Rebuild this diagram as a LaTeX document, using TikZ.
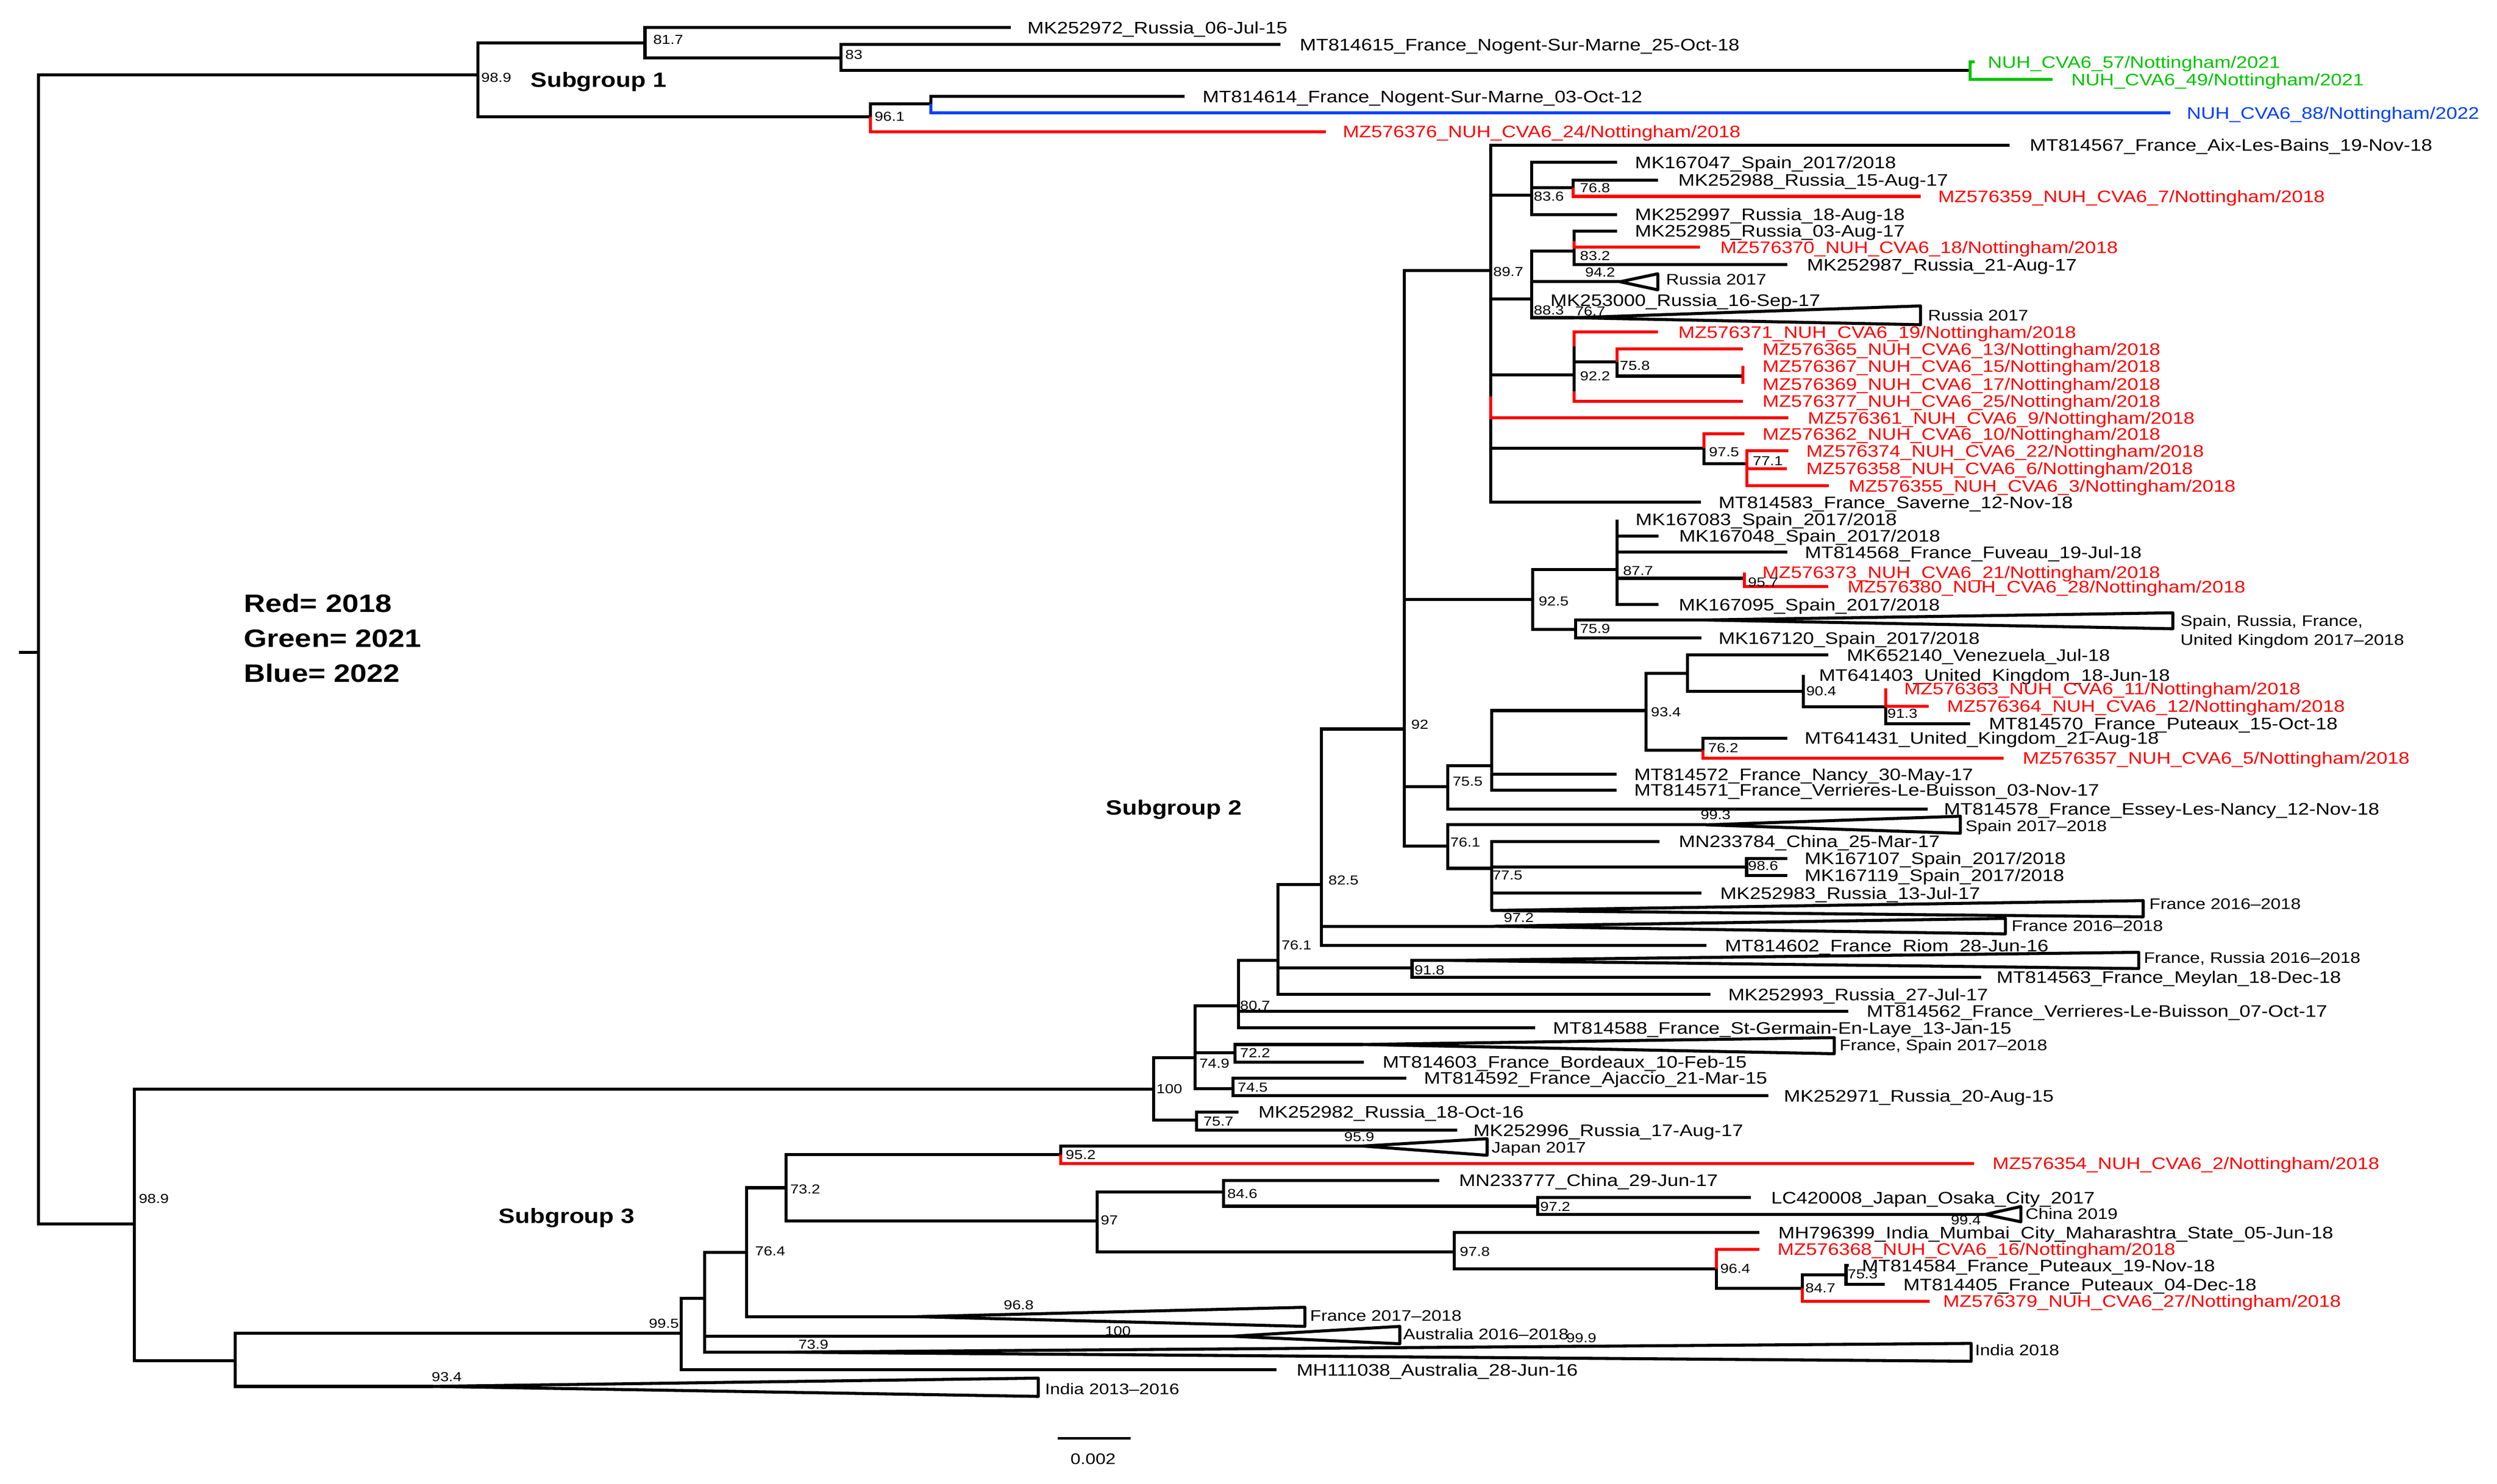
\documentclass[tikz,border=0pt]{standalone}
\usepackage{fontspec}
\setmainfont{Liberation Sans}[FakeStretch=1.18]
\definecolor{tred}{RGB}{255,0,0}
\definecolor{tgreen}{RGB}{0,196,0}
\definecolor{tblue}{RGB}{0,64,255}
\tikzset{
 br/.style={line width=1.9pt},
 lab/.style={font=\fontsize{10.5}{12}\selectfont, inner sep=0pt, text height=7.5pt, text depth=0pt, anchor=west},
 bsn/.style={font=\fontsize{8.2}{9}\selectfont, inner sep=0pt, text height=5.8pt, text depth=0pt, anchor=west},
 bsc/.style={font=\fontsize{8.2}{9}\selectfont, inner sep=0pt, text height=5.8pt, text depth=0pt},
 clab/.style={font=\fontsize{9.6}{11}\selectfont, inner sep=0pt, text height=6.9pt, text depth=0pt, anchor=west},
 sg/.style={font=\bfseries\fontsize{13}{15}\selectfont, inner sep=0pt, text height=9.3pt, text depth=0pt, anchor=west},
 leg/.style={font=\bfseries\fontsize{15.8}{18}\selectfont, inner sep=0pt, text height=11.3pt, text depth=0pt, anchor=west},
}
% black leaf: parent, name, end x, y, label x, text
\newcommand\lf[6]{%
 \coordinate (#2) at (#3,#4);
 \draw[br] (#1) |- (#2);
 \node[lab] (#2t) at (#5,#4) {#6};}
% coloured leaf: colour, parent, split, name, end x, y, label x, text
\newcommand\lfc[8]{%
 \coordinate (#4) at (#5,#6);
 \draw[br] (#2) -- (#3);
 \draw[br,#1] (#3) |- (#4);
 \node[lab,text=#1] (#4t) at (#7,#6) {#8};}
% collapsed clade: parent, name, apex x, y, right x, top y, bottom y
\newcommand\tri[7]{%
 \coordinate (#2) at (#3,#4);
 \coordinate (#2a) at (#5,#6);
 \coordinate (#2b) at (#5,#7);
 \draw[br] (#1) |- (#2);
 \draw[br,line join=round] (#2) -- (#2a) -- (#2b) -- cycle;}
\begin{document}
\begin{tikzpicture}[x=1pt,y=-1pt]
\fill[white] (0,0) rectangle (1568,932.3);
\useasboundingbox (0,0) rectangle (1568,932.3);
% ---------- internal nodes ----------
\coordinate (rootL) at (12,410);
\coordinate (root) at (24,410);
\coordinate (s1) at (300,47);
\coordinate (n817) at (405,27);
\coordinate (n83) at (528,36.5);
\coordinate (g57) at (1237,44.2);
\coordinate (n961) at (546.6,73.5);
\coordinate (n96b) at (584.5,65.3);
\coordinate (s23) at (84.5,769);
\coordinate (s3) at (147.8,855);
\coordinate (n995) at (427.6,837.7);
\coordinate (n442) at (442.4,815.7);
\coordinate (n764) at (468.8,786.8);
\coordinate (n732) at (493.6,746.2);
\coordinate (n952) at (666.2,725.3);
\coordinate (n97) at (689,767);
\coordinate (n846) at (768.2,749);
\coordinate (n972) at (965.7,757.8);
\coordinate (n978) at (913.3,786.4);
\coordinate (n964) at (1077.9,797.3);
\coordinate (n847) at (1131.9,809.3);
\coordinate (n753) at (1159.2,801);
\coordinate (n100) at (724.3,684.3);
\coordinate (n749) at (750.5,664.4);
\coordinate (n757) at (751.4,703.8);
\coordinate (n807) at (777.8,631.9);
\coordinate (n722) at (775.4,661.3);
\coordinate (n745) at (774.4,684);
\coordinate (n761b) at (802.5,603.4);
\coordinate (n825) at (829.8,555.7);
\coordinate (n918) at (886.7,608.2);
\coordinate (n92) at (881.7,458);
\coordinate (n897) at (936.2,170);
\coordinate (n836) at (961.7,122.6);
\coordinate (n768) at (987.9,118);
\coordinate (n883) at (961.7,187.7);
\coordinate (n832) at (988.4,157.8);
\coordinate (n922) at (988.4,235.5);
\coordinate (n758) at (1015.4,227.3);
\coordinate (c367) at (1094.5,236.3);
\coordinate (n975) at (1070,281.7);
\coordinate (n771) at (1097,291.3);
\coordinate (n925) at (962.4,376.7);
\coordinate (n877) at (1015.4,357.9);
\coordinate (n957) at (1095.5,363.3);
\coordinate (n759) at (989.3,395.5);
\coordinate (n755) at (909,494.2);
\coordinate (n936) at (936.8,481.2);
\coordinate (n934) at (1033.7,446.4);
\coordinate (n1059) at (1059.7,423);
\coordinate (n904) at (1132.5,434.3);
\coordinate (n913) at (1184,444);
\coordinate (n762) at (1069.3,471.2);
\coordinate (n761c) at (909,531.4);
\coordinate (n775) at (936.8,545.5);
\coordinate (n986) at (1096.8,544.6);
\coordinate (s370) at (988.4,151.5);
\coordinate (s371) at (988.4,217.6);
\coordinate (s377) at (988.4,245.8);
\coordinate (s361) at (936.2,249);
% ---------- backbone ----------
\draw[br] (rootL) -- (root);
\draw[br] (root) |- (s1);
\draw[br] (root) |- (s23);
% ---------- subgroup 1 ----------
\draw[br] (s1) |- (n817);
\draw[br] (s1) |- (n961);
\lf{n817}{L1}{634.6}{17.3}{645}{MK252972\_Russia\_06-Jul-15}
\draw[br] (n817) |- (n83);
\lf{n83}{L2}{804}{28}{816}{MT814615\_France\_Nogent-Sur-Marne\_25-Oct-18}
\draw[br] (n83) |- (g57);
\lfc{tgreen}{g57}{g57}{L3}{1240}{39}{1248}{NUH\_CVA6\_57/Nottingham/2021}
\lfc{tgreen}{g57}{g57}{L4}{1289}{50}{1300.5}{NUH\_CVA6\_49/Nottingham/2021}
\draw[br] (n961) |- (n96b);
\lf{n96b}{L5}{744}{60.6}{755}{MT814614\_France\_Nogent-Sur-Marne\_03-Oct-12}
\lfc{tblue}{n96b}{n96b}{L6}{1363}{71}{1373}{NUH\_CVA6\_88/Nottingham/2022}
\lfc{tred}{n961}{n961}{L7}{832.7}{82.7}{843}{MZ576376\_NUH\_CVA6\_24/Nottingham/2018}
% ---------- subgroup 2 ----------
\draw[br] (s23) |- (n100);
\draw[br] (n100) |- (n749);
\draw[br] (n100) |- (n757);
\draw[br] (n749) |- (n807);
\draw[br] (n749) |- (n722);
\draw[br] (n749) |- (n745);
\draw[br] (n807) |- (n761b);
\draw[br] (n761b) |- (n825);
\draw[br] (n761b) |- (n918);
\draw[br] (n825) |- (n92);
\draw[br] (n92) |- (n897);
\draw[br] (n92) |- (n925);
\draw[br] (n92) |- (n755);
\draw[br] (n92) |- (n761c);
% clade under 89.7
\lf{n897}{L8}{1261.8}{91.2}{1274.4}{MT814567\_France\_Aix-Les-Bains\_19-Nov-18}
\draw[br] (n897) |- (n836);
\lf{n836}{L9}{1015.4}{102}{1026.5}{MK167047\_Spain\_2017/2018}
\draw[br] (n836) |- (n768);
\lf{n768}{L10}{1041}{113.2}{1053.7}{MK252988\_Russia\_15-Aug-17}
\lfc{tred}{n768}{n768}{L11}{1206}{123.4}{1216.8}{MZ576359\_NUH\_CVA6\_7/Nottingham/2018}
\lf{n836}{L12}{1015.4}{134.7}{1026.5}{MK252997\_Russia\_18-Aug-18}
\draw[br] (n897) |- (n883);
\draw[br] (n883) |- (n832);
\lf{n832}{L13}{1015.4}{145.2}{1026.5}{MK252985\_Russia\_03-Aug-17}
\lf{n832}{L15}{1122.5}{166.3}{1134.5}{MK252987\_Russia\_21-Aug-17}
\lfc{tred}{n832}{s370}{L14}{1067.4}{155.3}{1080}{MZ576370\_NUH\_CVA6\_18/Nottingham/2018}
\tri{n883}{T1}{1017.3}{177}{1041}{172}{182.1}
\node[clab] (T1t) at (1046,175.5) {Russia 2017};
\coordinate (L17) at (961.7,188.5);
\node[lab] (L17t) at (973.4,188.5) {MK253000\_Russia\_16-Sep-17};
\tri{n883}{T2}{988.4}{199.6}{1206}{192.2}{204}
\node[clab] (T2t) at (1210.5,197.9) {Russia 2017};
\draw[br] (n897) |- (n922);
\draw[br] (n922) |- (n758);
\draw[br] (n758) |- (c367);
\lfc{tred}{n758}{n758}{L20}{1094.5}{219.3}{1106.6}{MZ576365\_NUH\_CVA6\_13/Nottingham/2018}
\lfc{tred}{c367}{c367}{L21}{1094.5}{230}{1106.6}{MZ576367\_NUH\_CVA6\_15/Nottingham/2018}
\lfc{tred}{c367}{c367}{L22}{1094.5}{241.3}{1106.6}{MZ576369\_NUH\_CVA6\_17/Nottingham/2018}
\lfc{tred}{n922}{s371}{L19}{1041}{208.6}{1053.7}{MZ576371\_NUH\_CVA6\_19/Nottingham/2018}
\lfc{tred}{n922}{s377}{L23}{1094.5}{252}{1106.6}{MZ576377\_NUH\_CVA6\_25/Nottingham/2018}
\draw[br] (n897) |- (n975);
\lf{n897}{L29}{1068}{315.5}{1079}{MT814583\_France\_Saverne\_12-Nov-18}
\lfc{tred}{n897}{s361}{L24}{1123}{262.5}{1135}{MZ576361\_NUH\_CVA6\_9/Nottingham/2018}
\draw[br] (n975) |- (n771);
\lfc{tred}{n975}{n975}{L25}{1095.5}{272.6}{1106.6}{MZ576362\_NUH\_CVA6\_10/Nottingham/2018}
\lfc{tred}{n771}{n771}{L26}{1123}{283.2}{1134}{MZ576374\_NUH\_CVA6\_22/Nottingham/2018}
\lfc{tred}{n771}{n771}{L27}{1122}{294.4}{1134}{MZ576358\_NUH\_CVA6\_6/Nottingham/2018}
\lfc{tred}{n771}{n771}{L28}{1148.5}{305.2}{1160.7}{MZ576355\_NUH\_CVA6\_3/Nottingham/2018}
% clade under 92.5
\draw[br] (n925) |- (n877);
\lf{n877}{L30}{1015.4}{326.3}{1026.9}{MK167083\_Spain\_2017/2018}
\lf{n877}{L31}{1041.4}{336.8}{1054.2}{MK167048\_Spain\_2017/2018}
\lf{n877}{L32}{1122.5}{346.9}{1133.2}{MT814568\_France\_Fuveau\_19-Jul-18}
\draw[br] (n877) |- (n957);
\lf{n877}{L35}{1041.4}{379.9}{1054}{MK167095\_Spain\_2017/2018}
\lfc{tred}{n957}{n957}{L33}{1095.5}{359.7}{1106.5}{MZ576373\_NUH\_CVA6\_21/Nottingham/2018}
\lfc{tred}{n957}{n957}{L34}{1148}{368.6}{1160}{MZ576380\_NUH\_CVA6\_28/Nottingham/2018}
\draw[br] (n925) |- (n759);
\tri{n759}{T3}{1069.5}{389.5}{1364.4}{385}{395}
\node[clab] (T3t) at (1369,389.8) {Spain, Russia, France,};
\node[clab] (T3u) at (1369,402) {United Kingdom 2017–2018};
\lf{n759}{L37}{1068.3}{400.8}{1079}{MK167120\_Spain\_2017/2018}
% clade under 75.5
\draw[br] (n755) |- (n936);
\draw[br] (n936) |- (n934);
\draw[br] (n934) |- (n1059);
\lf{n1059}{L38}{1148}{411.5}{1159.5}{MK652140\_Venezuela\_Jul-18}
\draw[br] (n1059) |- (n904);
\lf{n904}{L39}{1132.5}{424}{1142}{MT641403\_United\_Kingdom\_18-Jun-18}
\draw[br] (n904) |- (n913);
\lf{n913}{L42}{1237}{454.7}{1248.7}{MT814570\_France\_Puteaux\_15-Oct-18}
\lfc{tred}{n913}{n913}{L40}{1184}{432.5}{1195.5}{MZ576363\_NUH\_CVA6\_11/Nottingham/2018}
\lfc{tred}{n913}{n913}{L41}{1211}{443.6}{1222.5}{MZ576364\_NUH\_CVA6\_12/Nottingham/2018}
\draw[br] (n934) |- (n762);
\lf{n762}{L43}{1122.5}{463.7}{1133}{MT641431\_United\_Kingdom\_21-Aug-18}
\lfc{tred}{n762}{n762}{L44}{1258.2}{476.3}{1270}{MZ576357\_NUH\_CVA6\_5/Nottingham/2018}
\lf{n936}{L45}{1015}{486.5}{1026}{MT814572\_France\_Nancy\_30-May-17}
\lf{n936}{L46}{1015}{496.4}{1026}{MT814571\_France\_Verrieres-Le-Buisson\_03-Nov-17}
\lf{n755}{L47}{1210.4}{508.3}{1220.5}{MT814578\_France\_Essey-Les-Nancy\_12-Nov-18}
% clade under 76.1
\tri{n761c}{T4}{1071.4}{518.2}{1231}{512.8}{523.5}
\node[clab] (T4t) at (1234,518.7) {Spain 2017–2018};
\draw[br] (n761c) |- (n775);
\lf{n775}{L49}{1042}{528.6}{1054}{MN233784\_China\_25-Mar-17}
\draw[br] (n775) |- (n986);
\lf{n986}{L50}{1122.5}{539.3}{1133}{MK167107\_Spain\_2017/2018}
\lf{n986}{L51}{1122.5}{550}{1133}{MK167119\_Spain\_2017/2018}
\lf{n775}{L52}{1068.3}{561.1}{1080}{MK252983\_Russia\_13-Jul-17}
\tri{n775}{T5}{936.8}{572}{1345.8}{565.8}{576}
\node[clab] (T5t) at (1349.5,567.9) {France 2016–2018};
% rest of subgroup 2
\tri{n825}{T6}{938.3}{581.9}{1259.3}{577}{586.7}
\node[clab] (T6t) at (1263,581.6) {France 2016–2018};
\lf{n825}{L55}{1071.4}{594}{1083}{MT814602\_France\_Riom\_28-Jun-16}
\tri{n918}{T7}{911.5}{603.4}{1343}{598.3}{608.5}
\node[clab] (T7t) at (1346,601.5) {France, Russia 2016–2018};
\lf{n918}{L57}{1244}{614}{1253.6}{MT814563\_France\_Meylan\_18-Dec-18}
\lf{n761b}{L58}{1074}{624.8}{1085}{MK252993\_Russia\_27-Jul-17}
\lf{n807}{L59}{1160.5}{635.3}{1172}{MT814562\_France\_Verrieres-Le-Buisson\_07-Oct-17}
\lf{n807}{L60}{964}{645.8}{975}{MT814588\_France\_St-Germain-En-Laye\_13-Jan-15}
\tri{n722}{T8}{855.9}{656.2}{1151.8}{651.9}{662}
\node[clab] (T8t) at (1155,656.6) {France, Spain 2017–2018};
\lf{n722}{L62}{856.4}{667.2}{868}{MT814603\_France\_Bordeaux\_10-Feb-15}
\lf{n745}{L63}{883}{677.3}{894}{MT814592\_France\_Ajaccio\_21-Mar-15}
\lf{n745}{L64}{1110.4}{688.4}{1120}{MK252971\_Russia\_20-Aug-15}
\lf{n757}{L65}{777.8}{698.7}{790}{MK252982\_Russia\_18-Oct-16}
\lf{n757}{L66}{915.2}{710}{925}{MK252996\_Russia\_17-Aug-17}
% ---------- subgroup 3 ----------
\draw[br] (s23) |- (s3);
\draw[br] (s3) |- (n995);
\tri{s3}{T13}{271.9}{871}{652}{865.8}{877.3}
\node[clab] (T13t) at (656,872.5) {India 2013–2016};
\draw[br] (n995) |- (n442);
\lf{n995}{L80}{801.5}{860.6}{814}{MH111038\_Australia\_28-Jun-16}
\draw[br] (n442) |- (n764);
\tri{n442}{T11}{773.5}{839.5}{879}{833.3}{844.2}
\node[clab] (T11t) at (881,838) {Australia 2016–2018};
\tri{n442}{T12}{493.6}{849.5}{1237.8}{844}{855.2}
\node[clab] (T12t) at (1240,848) {India 2018};
\draw[br] (n764) |- (n732);
\tri{n764}{T10}{575.5}{827.2}{819.4}{821.3}{833.3}
\node[clab] (T10t) at (822.5,826.4) {France 2017–2018};
\draw[br] (n732) |- (n952);
\draw[br] (n732) |- (n97);
\tri{n952}{T9}{855.8}{720}{933.8}{715.4}{725.8}
\node[clab] (T9t) at (936.5,720.9) {Japan 2017};
\lfc{tred}{n952}{n952}{L68}{1239.6}{731}{1251}{MZ576354\_NUH\_CVA6\_2/Nottingham/2018}
\draw[br] (n97) |- (n846);
\draw[br] (n97) |- (n978);
\lf{n846}{L69}{903.8}{741.6}{916}{MN233777\_China\_29-Jun-17}
\draw[br] (n846) |- (n972);
\lf{n972}{L70}{1099.4}{752.4}{1112}{LC420008\_Japan\_Osaka\_City\_2017}
\tri{n972}{T14}{1246.6}{763}{1269}{758}{767.6}
\node[clab] (T14t) at (1271.7,762.5) {China 2019};
\lf{n978}{L72}{1104.8}{774.4}{1116.5}{MH796399\_India\_Mumbai\_City\_Maharashtra\_State\_05-Jun-18}
\draw[br] (n978) |- (n964);
\draw[br] (n964) |- (n847);
\lfc{tred}{n964}{n964}{L73}{1104.8}{784.8}{1116}{MZ576368\_NUH\_CVA6\_16/Nottingham/2018}
\draw[br] (n847) |- (n753);
\lf{n753}{L74}{1161}{795}{1169}{MT814584\_France\_Puteaux\_19-Nov-18}
\lf{n753}{L75}{1183.4}{806.9}{1195}{MT814405\_France\_Puteaux\_04-Dec-18}
\lfc{tred}{n847}{n847}{L76}{1211.6}{817.5}{1220}{MZ576379\_NUH\_CVA6\_27/Nottingham/2018}
% ---------- bootstrap values ----------
\node[bsn] (b01) at (302,48.7) {98.9};
\node[bsn] (b02) at (410,25) {81.7};
\node[bsn] (b03) at (530.6,34.3) {83};
\node[bsn] (b04) at (549,73.2) {96.1};
\node[bsn] (b05) at (937.5,170.7) {89.7};
\node[bsn] (b06) at (963,123.3) {83.6};
\node[bsn] (b07) at (992,118) {76.8};
\node[bsn] (b08) at (992,160.5) {83.2};
\node[bsc] (b09) at (1004.8,171) {94.2};
\node[bsn] (b10) at (963,194.7) {88.3};
\node[bsn] (b11) at (989,195.5) {76.7};
\node[bsn] (b12) at (992,236.3) {92.2};
\node[bsn] (b13) at (1017,229.5) {75.8};
\node[bsn] (b14) at (1073,284) {97.5};
\node[bsn] (b15) at (1100.5,289.6) {77.1};
\node[bsn] (b16) at (1019,358.4) {87.7};
\node[bsn] (b17) at (1097.5,365.8) {95.7};
\node[bsn] (b18) at (966,377.6) {92.5};
\node[bsn] (b19) at (992,395) {75.9};
\node[bsn] (b20) at (1036.5,447.3) {93.4};
\node[bsn] (b21) at (1134,434) {90.4};
\node[bsn] (b22) at (1185,448.3) {91.3};
\node[bsn] (b23) at (1072.5,469.7) {76.2};
\node[bsn] (b24) at (886,455) {92};
\node[bsn] (b25) at (912,490.8) {75.5};
\node[bsc] (b26) at (1077.3,511.9) {99.3};
\node[bsn] (b27) at (910.5,529.2) {76.1};
\node[bsn] (b28) at (937,549.7) {77.5};
\node[bsn] (b29) at (1097.5,543.8) {98.6};
\node[bsn] (b30) at (834,553) {82.5};
\node[bsc] (b31) at (953.7,576.5) {97.2};
\node[bsn] (b32) at (804.5,593.7) {76.1};
\node[bsn] (b33) at (888,609.3) {91.8};
\node[bsn] (b34) at (778.5,631.7) {80.7};
\node[bsn] (b35) at (778.5,661.5) {72.2};
\node[bsn] (b36) at (753,668) {74.9};
\node[bsn] (b37) at (777,683) {74.5};
\node[bsn] (b38) at (726,684) {100};
\node[bsn] (b39) at (755.5,704.4) {75.7};
\node[bsc] (b40) at (853.5,714) {95.9};
\node[bsn] (b41) at (669,725.5) {95.2};
\node[bsn] (b42) at (770.5,750) {84.6};
\node[bsn] (b43) at (967,758) {97.2};
\node[bsc] (b44) at (1234.5,766.5) {99.4};
\node[bsn] (b45) at (691,766.5) {97};
\node[bsn] (b46) at (916.5,786.4) {97.8};
\node[bsn] (b47) at (1080,797) {96.4};
\node[bsn] (b48) at (1160,800.5) {75.3};
\node[bsn] (b49) at (1133.5,809) {84.7};
\node[bsn] (b50) at (496,747) {73.2};
\node[bsn] (b51) at (474,786) {76.4};
\node[bsc] (b52) at (639.7,819.7) {96.8};
\node[bsc,anchor=east] (b53) at (426.5,831.4) {99.5};
\node[bsc] (b54) at (702,836) {100};
\node[bsc] (b55) at (993,840.5) {99.9};
\node[bsc] (b56) at (510.8,844.5) {73.9};
\node[bsn] (b57) at (87,753) {98.9};
\node[bsc] (b58) at (280.5,865) {93.4};
% ---------- group names, legend, scale ----------
\node[sg] (sg1) at (333,50) {Subgroup 1};
\node[sg] (sg2) at (694.3,507.2) {Subgroup 2};
\node[sg] (sg3) at (313,763.9) {Subgroup 3};
\node[leg] (lg1) at (153,379) {Red= 2018};
\node[leg] (lg2) at (153,401) {Green= 2021};
\node[leg] (lg3) at (153,423) {Blue= 2022};
\coordinate (sbL) at (664.2,903.7);
\coordinate (sbR) at (710,903.7);
\draw[line width=1.5pt] (sbL) -- (sbR);
\node[clab,anchor=center] (sbt) at (686.4,916.6) {0.002};
\end{tikzpicture}
\end{document}
